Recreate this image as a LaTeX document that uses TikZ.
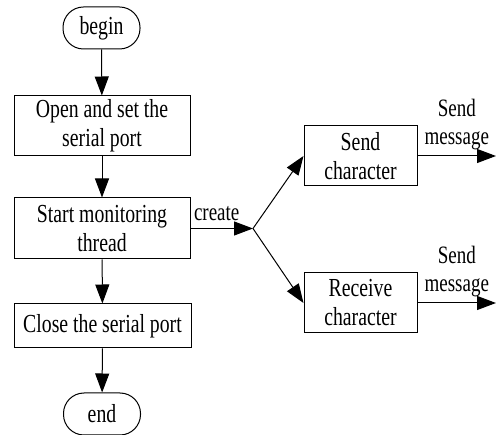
\documentclass[tikz,border=0pt]{standalone}
\usepackage{fontspec}
\setmainfont{Liberation Serif}[FakeStretch=0.76]
\usetikzlibrary{arrows.meta}
\begin{document}
\begin{tikzpicture}[x=1pt,y=-1pt,
  every node/.style={font=\fontsize{26}{29}\selectfont, inner sep=0pt, align=center},
  procbox/.style={draw, line width=1pt, minimum width=#1, fill=white},
  pill/.style={draw, line width=1pt, rounded corners=20.5pt, minimum width=77pt, minimum height=42pt},
  flow/.style={line width=1pt, -{Triangle[length=19pt,width=14pt]}},
  lbl/.style={font=\fontsize{25}{28}\selectfont}
]
\useasboundingbox (0,0) rectangle (496,435);
\node[pill] (begin) at (101.5,28) {begin};
\node[procbox=176pt, minimum height=60pt] (open) at (102,126) {Open and set the\\serial port};
\node[procbox=176pt, minimum height=61pt] (start) at (102,228.5) {Start monitoring\\thread};
\node[procbox=177pt, minimum height=44pt] (close) at (102.5,326) {Close the serial port};
\node[pill] (end) at (102,414) {end};
\node[procbox=113pt, minimum height=60pt] (send) at (360.5,156) {Send\\character};
\node[procbox=113pt, minimum height=60pt] (recv) at (360.5,303) {Receive\\character};
\coordinate (j) at (253,228.5);
\coordinate (o1) at (496,156);
\coordinate (o2) at (496,303);

\draw[flow] (begin) -- (open);
\draw[flow] (open) -- (start);
\draw[flow] (start) -- (close);
\draw[flow] (close) -- (end);
\draw[flow] (start.east) -- node[pos=0, lbl, anchor=south west, xshift=3pt, yshift=7pt] {create} (j);
\draw[flow] (j) -- (send.west);
\draw[flow] (j) -- (recv.west);
\draw[flow] (send.east) -- node[midway, lbl, anchor=south, yshift=6pt] {Send\\message} (o1);
\draw[flow] (recv.east) -- node[midway, lbl, anchor=south, yshift=6pt] {Send\\message} (o2);
\end{tikzpicture}
\end{document}
